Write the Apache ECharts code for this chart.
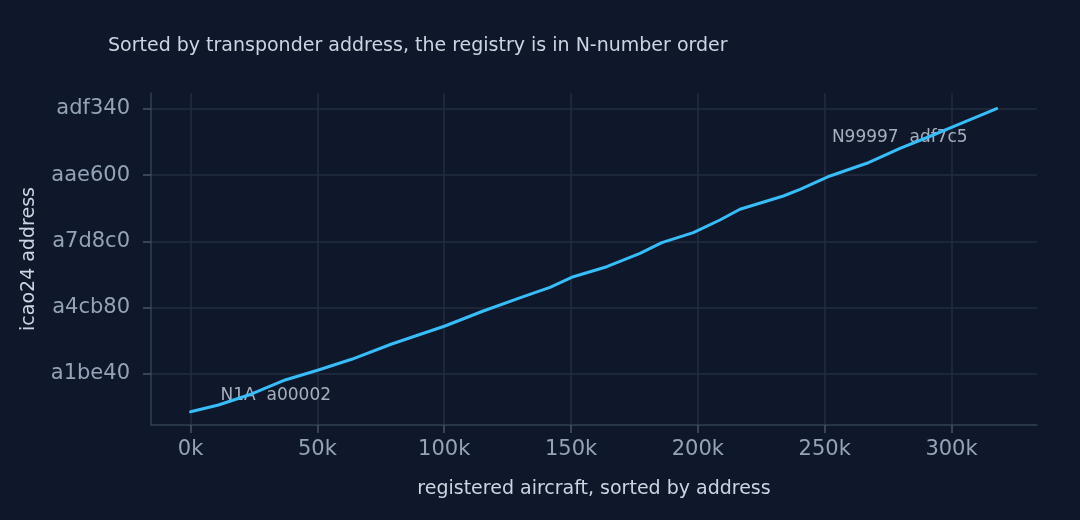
<!DOCTYPE html>
<html>
<head>
<meta charset="utf-8">
<script src="https://cdn.jsdelivr.net/npm/echarts@6/dist/echarts.min.js"></script>
<style>
  html, body { margin: 0; padding: 0; background: #0f172a; }
  #chart { width: 1080px; height: 520px; }
</style>
</head>
<body>
<div id="chart"></div>
<script>
// registered aircraft index (sorted by icao24) and the icao24 address as an integer
const aircraftIndex = [0, 11000, 24100, 37300, 50400, 63500, 79300, 89800, 100300, 115400,
  131200, 141700, 150900, 164100, 177200, 185800, 198200, 208700, 216600, 233700,
  240300, 252100, 266600, 279700, 292800, 300700, 317800]
const icaoAddress = [10485762, 10506410, 10539620, 10581890, 10612080, 10644380, 10690570,
  10717740, 10744910, 10790190, 10833360, 10861740, 10893740, 10923930, 10964380,
  10996380, 11026570, 11064920, 11097220, 11137370, 11157590, 11197750, 11236090,
  11281380, 11321530, 11346580, 11401157]
const endLabels = ['N1A', 'N99997']

const xTicks = [0, 50000, 100000, 150000, 200000, 250000, 300000]
const yTicks = [10600000, 10800000, 11000000, 11200000, 11400000]

const hex = v => Math.round(v).toString(16)
const font = 'DejaVu Sans'
const last = aircraftIndex.length - 1

const chart = echarts.init(document.getElementById('chart'))
chart.setOption({
  backgroundColor: '#0f172a',
  animation: false,
  textStyle: { fontFamily: font },
  title: {
    text: 'Sorted by transponder address, the registry is in N-number order',
    left: 103, top: 32,
    textStyle: { color: '#cbd5e1', fontSize: 19, fontWeight: 'normal', fontFamily: font }
  },
  grid: { left: 151, right: 43, top: 93, bottom: 95 },
  xAxis: {
    type: 'value',
    min: -15600, max: 333700,
    name: 'registered aircraft, sorted by address',
    nameLocation: 'middle', nameGap: 55,
    nameTextStyle: { color: '#cbd5e1', fontSize: 19 },
    axisLine: { show: true, onZero: false, lineStyle: { color: '#334155', width: 1.5 } },
    axisTick: { show: true, length: 8, customValues: xTicks, lineStyle: { color: '#475569', width: 1.5 } },
    axisLabel: { customValues: xTicks, color: '#94a3b8', fontSize: 21, margin: 14,
      formatter: v => (v / 1000) + 'k' },
    splitLine: { show: true, lineStyle: { color: '#222e41', width: 1.5 } }
  },
  yAxis: {
    type: 'value',
    min: 10446000, max: 11448300,
    name: 'icao24 address',
    nameLocation: 'middle', nameGap: 112, nameRotate: 90,
    nameTextStyle: { color: '#cbd5e1', fontSize: 19 },
    axisLine: { show: true, onZero: false, lineStyle: { color: '#334155', width: 1.5 } },
    axisTick: { show: true, length: 8, customValues: yTicks, lineStyle: { color: '#475569', width: 1.5 } },
    axisLabel: { customValues: yTicks, color: '#94a3b8', fontSize: 21, margin: 21,
      formatter: v => hex(v) },
    splitLine: { show: true, lineStyle: { color: '#222e41', width: 1.5 } }
  },
  series: [
    {
      type: 'line',
      data: aircraftIndex.map((x, i) => [x, icaoAddress[i]]),
      showSymbol: false,
      lineStyle: { color: '#38bdf8', width: 3, cap: 'round', join: 'round' },
      silent: true
    },
    {
      type: 'scatter',
      symbolSize: 0,
      silent: true,
      label: { show: true, color: '#cbd5e1', fontSize: 17, fontFamily: font },
      data: [
        { value: [aircraftIndex[0], icaoAddress[0]],
          label: { position: [30, -16], align: 'left', verticalAlign: 'middle',
            formatter: endLabels[0] + '  ' + hex(icaoAddress[0]) } },
        { value: [aircraftIndex[last], icaoAddress[last]],
          label: { position: [-29, 29], align: 'right', verticalAlign: 'middle',
            formatter: endLabels[1] + '  ' + hex(icaoAddress[last]) } }
      ]
    }
  ]
})
</script>
</body>
</html>
